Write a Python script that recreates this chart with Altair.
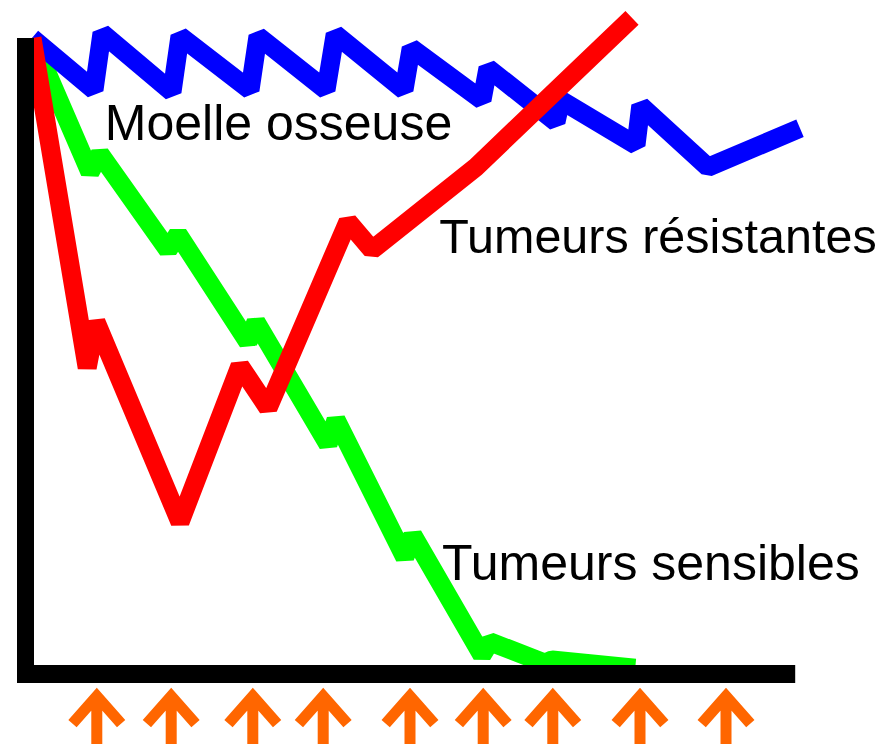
import altair as alt
import pandas as pd

# --- values (x: time units, y: relative level) ---
blue_x = [0, 7.75, 8.75, 17.5, 18.5, 27.25, 28.25, 36.75, 37.9, 46.5, 47.4, 56.25, 57.0, 65.5, 66.1, 75.5, 76.1, 84.5, 96.0]
blue_y = [100, 91.7, 100.8, 91.4, 100.3, 91.7, 100.3, 91.7, 100.6, 91.7, 98.4, 90.1, 95.2, 86.6, 90.1, 82.9, 89.2, 79.4, 85.6]

red_x = [0, 6.9, 8.0, 18.5, 26.0, 29.5, 39.5, 42.5, 55.4, 75.0]
red_y = [100, 47.4, 54.7, 22.8, 47.7, 41.0, 70.7, 66.2, 79.3, 103.2]

green_x = [0, 7.25, 8.5, 17.0, 18.25, 27.0, 28.0, 37.0, 38.0, 46.6, 47.6, 56.25, 57.25, 64.1, 65.0, 75.4]
green_y = [100, 78.6, 81.5, 66.2, 68.7, 51.5, 54.7, 35.2, 39.1, 17.2, 20.7, 1.6, 3.7, 0.3, 0.8, -0.5]

treatment_x = [8.1, 17.4, 27.6, 36.4, 47.25, 56.4, 65.1, 76.0, 86.75]

label_text = ["Moelle osseuse", "Tumeurs résistantes", "Tumeurs sensibles"]
label_x = [9.1, 50.9, 51.25]
label_y = [83.7, 65.7, 13.6]

# --- layout ---
W, H = 879, 736
xs = alt.Scale(domain=[-3, 106.875], nice=False, zero=False)
ys = alt.Scale(domain=[-12.6, 104.78], nice=False, zero=False)


def series(xv, yv, name):
    return pd.DataFrame({"t": xv, "v": yv, "s": name, "o": range(len(xv))})


def line(df, color):
    return alt.Chart(df).mark_line(
        color=color, strokeWidth=19, strokeJoin="bevel", strokeCap="butt"
    ).encode(
        x=alt.X("t:Q", scale=xs, axis=None),
        y=alt.Y("v:Q", scale=ys, axis=None),
        order="o:Q",
    )


green = line(series(green_x, green_y, "Tumeurs sensibles"), "#00FF00")
blue = line(series(blue_x, blue_y, "Moelle osseuse"), "#0000FF")
red = line(series(red_x, red_y, "Tumeurs résistantes"), "#FF0000")

axes_df = pd.DataFrame({"x1": [-1.875, -1.875], "x2": [0.25, 95.4], "y1": [-2.87, -2.87], "y2": [100, 0]})
axes = alt.Chart(axes_df).mark_rect(color="black").encode(
    x=alt.X("x1:Q", scale=xs, axis=None), x2="x2:Q",
    y=alt.Y("y1:Q", scale=ys, axis=None), y2="y2:Q",
)

arrow_path = "M0,-1L0,1M-0.64,-0.27L0,-1L0.64,-0.27"
arrows = alt.Chart(pd.DataFrame({"t": treatment_x})).mark_point(
    shape=arrow_path, filled=False, stroke="#FF6600", strokeWidth=11,
    opacity=1, size=5776, strokeJoin="miter", strokeCap="butt",
).encode(
    x=alt.X("t:Q", scale=xs, axis=None),
    y=alt.value(726),
)

labels_df = pd.DataFrame({"txt": label_text, "t": label_x, "v": label_y})


def text_layer(size, keep):
    return alt.Chart(labels_df).transform_filter(
        alt.FieldOneOfPredicate(field="txt", oneOf=keep)
    ).mark_text(
        align="left", baseline="alphabetic", font="Liberation Sans", fontSize=size, color="black"
    ).encode(
        x=alt.X("t:Q", scale=xs, axis=None),
        y=alt.Y("v:Q", scale=ys, axis=None),
        text="txt:N",
    )


labels_a = text_layer(50, [label_text[0], label_text[2]])
labels_b = text_layer(48.5, [label_text[1]])

chart = alt.layer(green, blue, red, axes, arrows, labels_a, labels_b).properties(
    width=W, height=H, padding=0, autosize=alt.AutoSizeParams(type="none")
).configure_view(stroke=None)

chart.save("out.html", embed_options={"renderer": "svg", "actions": False})
